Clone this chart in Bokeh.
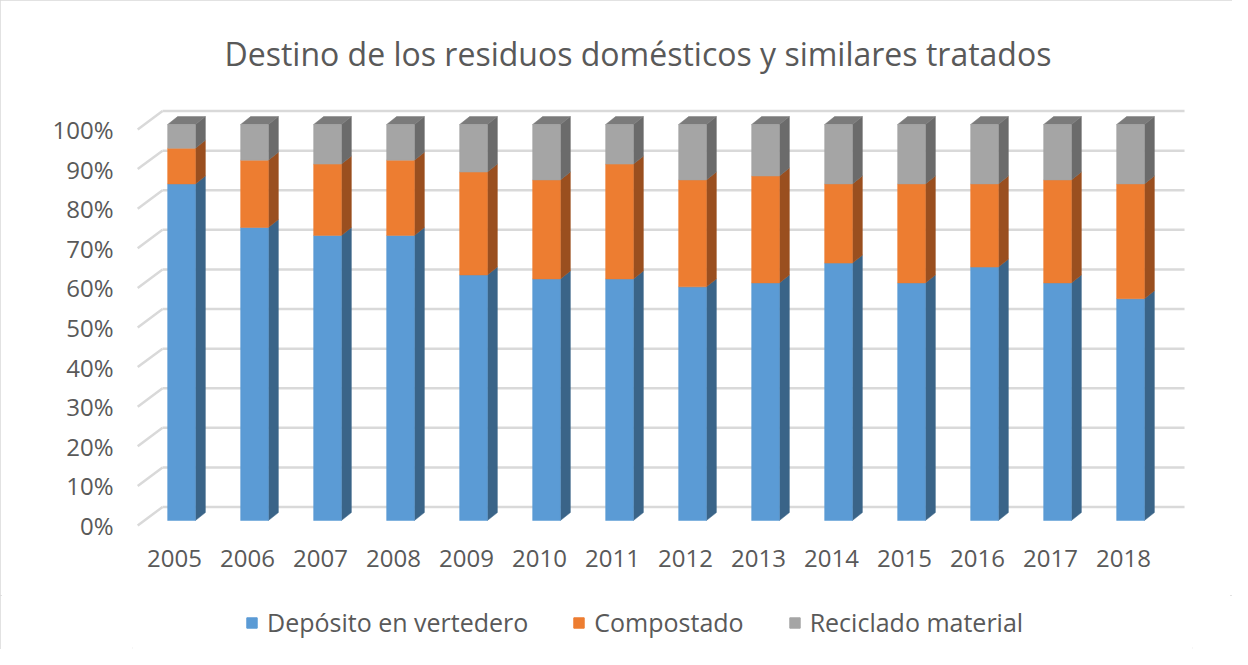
from bokeh.plotting import figure
from bokeh.layouts import column
from bokeh.models import (ColumnDataSource, Range1d, LinearAxis, FixedTicker,
                          PrintfTickFormatter, Legend, LegendItem)
from bokeh.embed import file_html
from bokeh.resources import INLINE

# ---------------- data ----------------
years = [2005, 2006, 2007, 2008, 2009, 2010, 2011, 2012, 2013, 2014, 2015, 2016, 2017, 2018]
deposito = [85, 74, 72, 72, 62, 61, 61, 59, 60, 65, 60, 64, 60, 56]
compostado = [9, 17, 18, 19, 26, 25, 29, 27, 27, 20, 25, 21, 26, 29]
reciclado = [6, 9, 10, 9, 12, 14, 10, 14, 13, 15, 15, 15, 14, 15]
series_keys = ["deposito", "compostado", "reciclado"]
series_labels = ["Depósito en vertedero", "Compostado", "Reciclado material"]
y_ticks = [0, 10, 20, 30, 40, 50, 60, 70, 80, 90, 100]
title_text = "Destino de los residuos domésticos y similares tratados"

# ---------------- style ----------------
front_colors = ["#5b9bd5", "#ed7d31", "#a5a5a5"]
side_colors = ["#3a6488", "#9a4f1f", "#6b6b6b"]
top_color = "#7b7b7b"
grid_color = "#d9d9d9"
text_color = "#595959"
font = "Open Sans"
bar_w = 0.38
dx, dy = 0.137, 2.0          # bar depth (x in years, y in percent)
wall_dy = 3.4                # back wall offset
lbl_dy = 1.26                # label plane offset
lbl_dx = 0.096

src = ColumnDataSource(dict(year=years, deposito=deposito,
                            compostado=compostado, reciclado=reciclado))

x0, x1 = 2004.3288, 2018.8493
y0, y1 = -3.03, 105.56
p = figure(width=1232, height=595, output_backend="svg", toolbar_location=None,
           x_range=Range1d(x0, x1), y_range=Range1d(y0, y1),
           x_axis_location=None, y_axis_location=None,
           min_border_left=132, min_border_right=40,
           min_border_top=102, min_border_bottom=63)
p.outline_line_color = None
p.xgrid.visible = False
p.ygrid.visible = False

p.title.text = title_text
p.title.text_font = font
p.title.text_font_size = "32px"
p.title.text_font_style = "normal"
p.title.text_color = text_color
p.title.align = "left"
p.title.offset = 92
p.title.standoff = 56

# back-wall gridlines and floor diagonals
wall_x0 = years[0] - 0.26
wall_x1 = years[-1] + 0.74
diag_x0 = years[0] - 0.60
p.segment(x0=[wall_x0] * len(y_ticks), x1=[wall_x1] * len(y_ticks),
          y0=[t + wall_dy for t in y_ticks], y1=[t + wall_dy for t in y_ticks],
          line_color=grid_color, line_width=2.5)
p.segment(x0=[diag_x0] * len(y_ticks), x1=[wall_x0] * len(y_ticks),
          y0=[t - lbl_dy for t in y_ticks], y1=[t + wall_dy for t in y_ticks],
          line_color=grid_color, line_width=2.5)

# side faces (3D depth), computed from the stacked data
data = [deposito, compostado, reciclado]
bottoms = [0] * len(years)
for k, vals in enumerate(data):
    xs, ys = [], []
    for i, yr in enumerate(years):
        b = bottoms[i]
        t = b + vals[i]
        xr = yr + bar_w / 2
        xs.append([xr, xr + dx, xr + dx, xr])
        ys.append([b, b + dy, t + dy, t])
    p.patches(xs=xs, ys=ys, fill_color=side_colors[k], line_color=side_colors[k], line_width=0.5)
    bottoms = [bottoms[i] + vals[i] for i in range(len(years))]

# top faces of the stacks
txs, tys = [], []
for i, yr in enumerate(years):
    t = bottoms[i]
    txs.append([yr - bar_w / 2, yr - bar_w / 2 + dx, yr + bar_w / 2 + dx, yr + bar_w / 2])
    tys.append([t, t + dy, t + dy, t])
p.patches(xs=txs, ys=tys, fill_color=top_color, line_color=top_color, line_width=0.5)

# front faces
rs = p.vbar_stack(series_keys, x="year", width=bar_w, color=front_colors,
                  line_color=front_colors, line_width=0.5, source=src)

# axes on shifted label planes
p.extra_y_ranges = {"ylbl": Range1d(y0 + lbl_dy, y1 + lbl_dy)}
p.extra_x_ranges = {"xlbl": Range1d(x0 + lbl_dx, x1 + lbl_dx)}

yax = LinearAxis(y_range_name="ylbl", ticker=FixedTicker(ticks=y_ticks),
                 formatter=PrintfTickFormatter(format="%d%%"))
xax = LinearAxis(x_range_name="xlbl", ticker=FixedTicker(ticks=years),
                 formatter=PrintfTickFormatter(format="%d"))
for ax in (yax, xax):
    ax.axis_line_color = None
    ax.major_tick_line_color = None
    ax.minor_tick_line_color = None
    ax.major_tick_out = 0
    ax.major_tick_in = 0
    ax.major_label_text_font = font
    ax.major_label_text_font_size = "24px"
    ax.major_label_text_color = text_color
yax.major_label_standoff = 19
xax.major_label_standoff = 17
p.add_layout(yax, "left")
p.add_layout(xax, "below")

# legend strip (separate figure under the chart); its stacked bars use the
# same data source but are hidden, so only the legend shows
pl = figure(width=1232, height=54, output_backend="svg", toolbar_location=None,
            x_range=Range1d(0, 1), y_range=Range1d(0, 1),
            x_axis_location=None, y_axis_location=None, min_border=0)
pl.outline_line_color = None
pl.xgrid.visible = False
pl.ygrid.visible = False
leg_rs = pl.vbar_stack(series_keys, x="year", width=bar_w, color=front_colors,
                       source=src, visible=False)
legend = Legend(items=[LegendItem(label=series_labels[k], renderers=[leg_rs[k]]) for k in range(3)],
                orientation="horizontal", location="left",
                label_text_font=font, label_text_font_size="25px",
                label_text_color=text_color, glyph_width=13, glyph_height=13,
                label_standoff=9, spacing=44, border_line_alpha=0,
                background_fill_alpha=0, inactive_fill_alpha=0,
                margin=108, padding=5)
pl.add_layout(legend, "center")

layout = column(p, pl, spacing=0)
layout.styles = {"outline": "2px solid #d9d9d9", "outline-offset": "-2px"}

open("out.html", "w").write(file_html(layout, INLINE))
